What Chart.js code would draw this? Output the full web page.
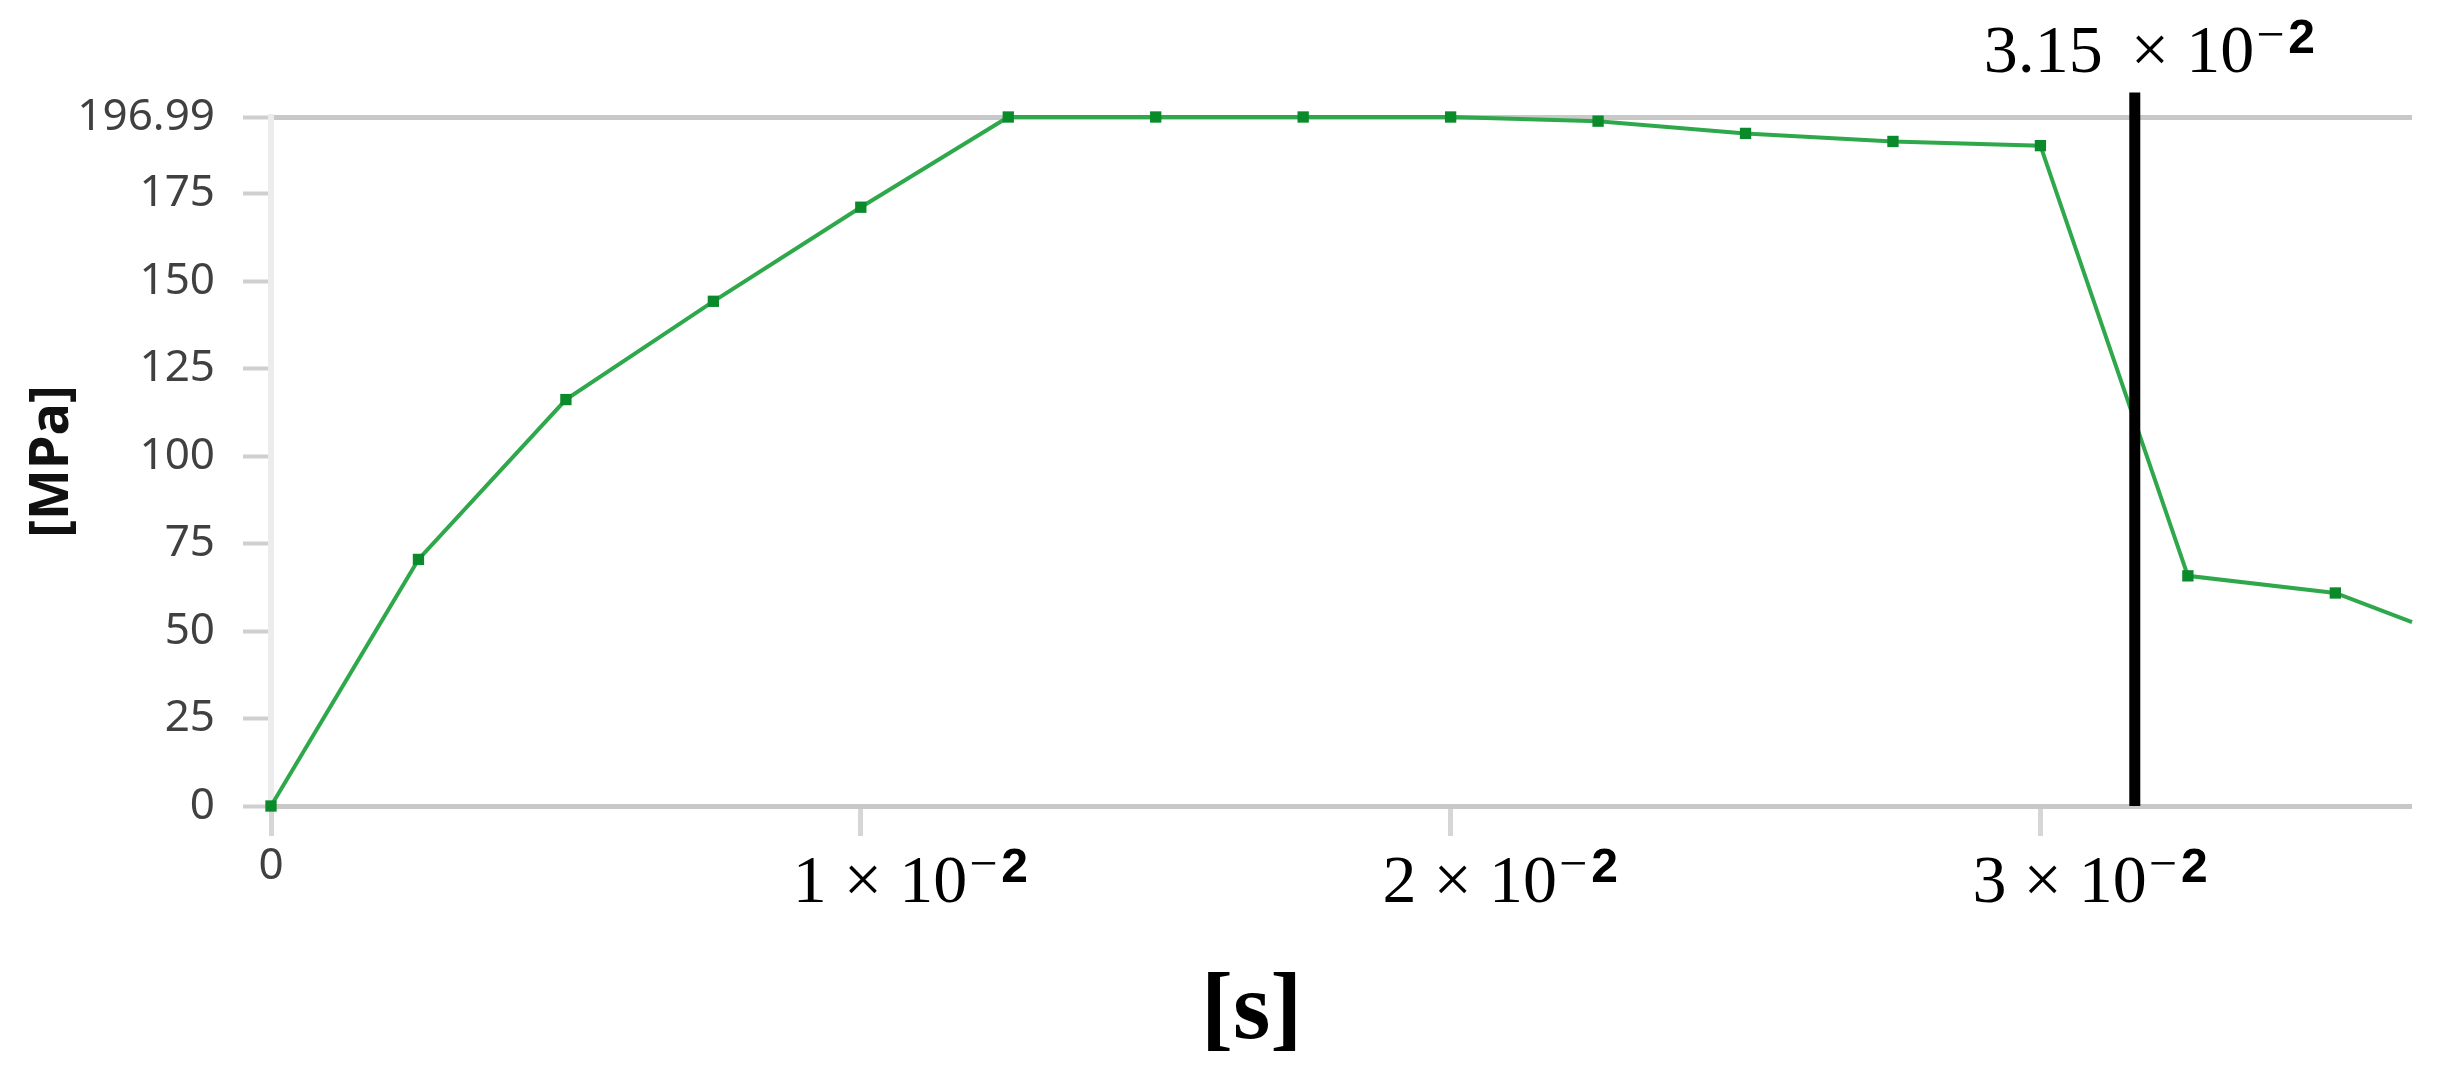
<!DOCTYPE html>
<html lang="en">
<head>
  <meta charset="UTF-8" />
  <title>Stress vs time</title>
  <style>
    * {
      margin: 0;
      padding: 0;
      box-sizing: border-box;
    }
    body {
      background-color: #ffffff;
      width: 2460px;
      height: 1069px;
      overflow: hidden;
    }
    .chart-box {
      position: relative;
      width: 2460px;
      height: 1069px;
    }
  </style>
</head>
<body>
  <div class="chart-box">
    <canvas id="stressChart"></canvas>
  </div>

  <script src="https://cdn.jsdelivr.net/npm/chart.js"></script>
  <script>
    // data
    const timeValues   = [0, 0.0025, 0.005, 0.0075, 0.01, 0.0125, 0.015, 0.0175, 0.02, 0.0225, 0.025, 0.0275, 0.03, 0.0325, 0.035, 0.0363];
    const stressValues = [0, 70.5, 116.2, 144.3, 171.2, 196.99, 196.99, 196.99, 196.99, 195.8, 192.3, 190.0, 188.8, 65.8, 60.9, 52.6];
    const yTickValues  = [0, 25, 50, 75, 100, 125, 150, 175, 196.99];
    const xTickValues  = [0, 0.01, 0.02, 0.03];
    const xTickMantissas = ['0', '1', '2', '3'];
    const markerTime   = 0.0316;
    const markerTop    = 204;
    const markerLabel  = '3.15';
    const xMax = 0.0363;
    const yMax = 196.99;

    const serif = "'Liberation Serif', 'DejaVu Serif', serif";
    const sans  = "'Noto Sans', 'Liberation Sans', sans-serif";

    // draws "N × 10" then a raised "−2", starting at x
    function drawSci(ctx, mantissa, x, baseline, supBaseline) {
      ctx.font = '68px ' + serif;
      ctx.fillText(mantissa + ' \u00d7 10', x, baseline);
      const w = ctx.measureText(mantissa + ' \u00d7 10').width;
      ctx.font = '50px ' + serif;
      ctx.fillText('\u2212', x + w + 2, supBaseline - 2);
      const mw = ctx.measureText('\u2212').width;
      ctx.font = 'bold 48px ' + "'Liberation Sans', Arial, sans-serif";
      ctx.fillText('2', x + w + mw + 6, supBaseline);
    }

    const sciLabels = {
      id: 'sciLabels',
      afterDraw(chart) {
        const ctx = chart.ctx;
        const xs = chart.scales.x;
        const area = chart.chartArea;
        ctx.save();
        ctx.fillStyle = '#000';
        ctx.textAlign = 'left';
        ctx.textBaseline = 'alphabetic';

        // x tick labels in 10^-2 notation
        xTickValues.forEach((v, i) => {
          if (v === 0) return;
          const px = xs.getPixelForValue(v);
          drawSci(ctx, xTickMantissas[i], px - 68, area.bottom + 96, area.bottom + 76);
        });

        // label above the black marker line
        const lx = xs.getPixelForValue(markerTime);
        ctx.font = '68px ' + serif;
        ctx.fillText(markerLabel, lx - 151, area.top - 45);
        drawSci(ctx, '', lx - 21, area.top - 45, area.top - 64);

        // x axis title
        ctx.font = 'bold 96px ' + serif;
        ctx.textAlign = 'center';
        ctx.fillText('[s]', area.left + (area.right - area.left) * 0.458, area.bottom + 232);
        ctx.restore();
      }
    };

    const ctx = document.getElementById('stressChart').getContext('2d');
    const stressChart = new Chart(ctx, {
      type: 'line',
      data: {
        datasets: [
          {
            label: 'marker',
            data: [{ x: markerTime, y: 0 }, { x: markerTime, y: markerTop }],
            borderColor: '#000000',
            borderWidth: 11,
            pointRadius: 0,
            clip: false,
            order: 0
          },
          {
            label: 'Stress',
            data: timeValues.map((t, i) => ({ x: t, y: stressValues[i] })),
            borderColor: '#2fa84c',
            borderWidth: 4,
            pointStyle: 'rect',
            pointRadius: (c) => c.dataIndex === timeValues.length - 1 ? 0 : 8,
            pointBackgroundColor: '#0a8a2a',
            pointBorderColor: '#0a8a2a',
            pointBorderWidth: 0,
            clip: false,
            order: 1
          }
        ]
      },
      options: {
        responsive: true,
        maintainAspectRatio: false,
        devicePixelRatio: 1,
        animation: false,
        events: [],
        layout: {
          padding: { top: 117, right: 48, left: 0, bottom: 0 }
        },
        plugins: {
          legend: { display: false },
          tooltip: { enabled: false }
        },
        scales: {
          x: {
            type: 'linear',
            min: 0,
            max: xMax,
            afterBuildTicks: (scale) => {
              scale.ticks = xTickValues.map(v => ({ value: v }));
            },
            afterFit: (scale) => { scale.height = 263; },
            border: { display: false },
            grid: {
              drawOnChartArea: false,
              drawTicks: true,
              tickLength: 30,
              tickWidth: 5,
              tickColor: '#d6d6d6'
            },
            ticks: {
              autoSkip: false,
              maxRotation: 0,
              padding: 4,
              color: '#404040',
              font: { family: sans, size: 44 },
              callback: (v) => v === 0 ? '0' : ''
            }
          },
          y: {
            min: 0,
            max: yMax,
            afterBuildTicks: (scale) => {
              scale.ticks = yTickValues.map(v => ({ value: v }));
            },
            afterFit: (scale) => { scale.width = 271; },
            border: { display: true, color: '#ececec', width: 6 },
            grid: {
              color: (c) => (c.tick && (c.tick.value === 0 || c.tick.value === yMax)) ? '#c8c8c8' : 'rgba(0,0,0,0)',
              lineWidth: 5,
              tickLength: 28,
              tickWidth: 4,
              tickColor: '#cfcfcf'
            },
            ticks: {
              autoSkip: false,
              padding: 28,
              color: '#404040',
              font: { family: sans, size: 44 },
              callback: (v) => v === yMax ? '196.99' : String(v)
            },
            title: {
              display: true,
              text: '[MPa]',
              color: '#111111',
              font: { family: sans, size: 54, weight: 'bold' },
              padding: { top: 20, bottom: 0 }
            }
          }
        }
      },
      plugins: [sciLabels]
    });
  </script>
</body>
</html>
